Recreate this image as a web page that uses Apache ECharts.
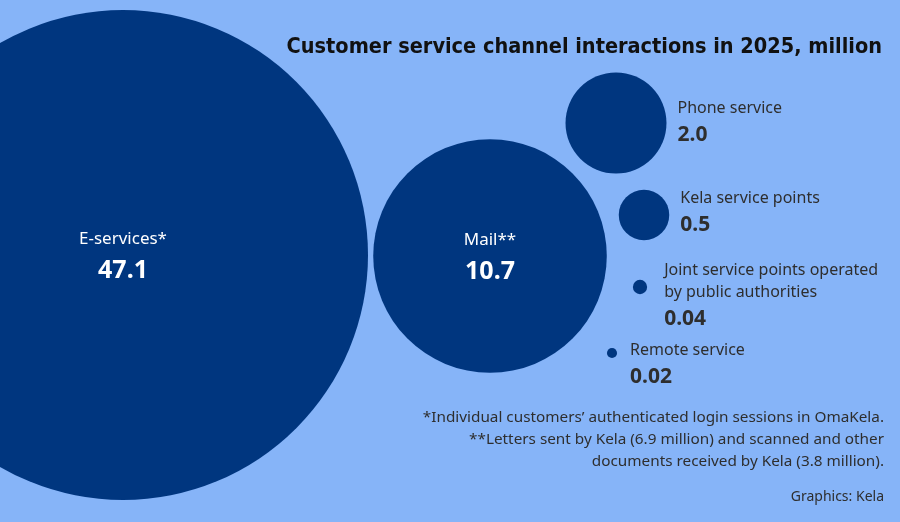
<!DOCTYPE html>
<html><head><meta charset="utf-8">
<script src="https://cdn.jsdelivr.net/npm/echarts@6/dist/echarts.min.js"></script>
<style>html,body{margin:0;padding:0;background:#86b4f8;}#c{width:900px;height:522px;}</style>
</head><body><div id="c"></div>
<script>
// Data
const categories = ['E-services*', 'Mail**', 'Phone service', 'Kela service points', 'Joint service points operated\nby public authorities', 'Remote service'];
const values = [47.1, 10.7, 2.0, 0.5, 0.04, 0.02];
const footnotes = [
  '*Individual customers\u2019 authenticated login sessions in OmaKela.',
  '**Letters sent by Kela (6.9 million) and scanned and other',
  'documents received by Kela (3.8 million).'
];

// Layout (bubble centres in pixel space, label placement)
const layout = [
  {cx: 123, cy: 255, inside: true},
  {cx: 490, cy: 256, inside: true},
  {cx: 616, cy: 123, dx: 0, dy: 1},
  {cx: 644, cy: 215, dx: 0, dy: -1},
  {cx: 640, cy: 287, dx: 6, dy: 10},
  {cx: 612, cy: 353, dx: 2, dy: 13}
];
const K = 71.4; // diameter per sqrt(million)

function fmt(v){ return v >= 0.1 ? v.toFixed(1) : v.toFixed(2); }

const data = values.map((v, i) => {
  const L = layout[i];
  const item = { name: categories[i], value: [L.cx, L.cy, v] };
  if (L.inside) {
    item.label = { position: 'inside', offset: [0, 0], formatter: p => '{n|' + p.name + '}\n{vw|' + fmt(p.value[2]) + '}' };
  } else {
    item.label = { position: 'right', distance: 11, offset: [L.dx, L.dy], align: 'left',
      formatter: p => p.name.split('\n').map(s => '{d|' + s + '}').join('\n') + '\n{vd|' + fmt(p.value[2]) + '}' };
  }
  return item;
});

const chart = echarts.init(document.getElementById('c'));
chart.setOption({
  backgroundColor: '#86b4f8',
  animation: false,
  title: {
    text: 'Customer service channel interactions in 2025, million',
    right: 13, top: 31,
    textStyle: { fontFamily: 'DejaVu Sans Condensed', fontWeight: 'bold', fontSize: 21.5, color: '#111' }
  },
  grid: { left: 0, right: 0, top: 0, bottom: 0 },
  xAxis: { type: 'value', min: 0, max: 900, show: false },
  yAxis: { type: 'value', min: 0, max: 522, inverse: true, show: false },
  series: [{
    type: 'scatter',
    symbol: 'circle',
    symbolSize: v => K * Math.sqrt(v[2]),
    itemStyle: { color: '#00367f', opacity: 1 },
    label: {
      show: true,
      fontFamily: 'Noto Sans',
      rich: {
        n: { color: '#fff', fontSize: 17, lineHeight: 32, fontFamily: 'Noto Sans', align: 'center' },
        vw: { color: '#fff', fontSize: 25, fontWeight: 'bold', lineHeight: 32, fontFamily: 'Noto Sans', align: 'center' },
        d: { color: '#2e2e2e', fontSize: 16, lineHeight: 22, fontFamily: 'Noto Sans' },
        vd: { color: '#2e2e2e', fontSize: 21, fontWeight: 'bold', lineHeight: 31, fontFamily: 'Noto Sans' }
      }
    },
    data: data
  }],
  graphic: footnotes.map((t, i) => ({
    type: 'text', x: 884, y: 410 + i * 22,
    style: { text: t, align: 'right', fill: '#2e2e2e', font: '15.3px "Noto Sans"' }
  })).concat([
    { type: 'text', x: 884, y: 490, style: { text: 'Graphics: Kela', align: 'right', fill: '#2e2e2e', font: '14px "Noto Sans"' } }
  ])
});
</script></body></html>
